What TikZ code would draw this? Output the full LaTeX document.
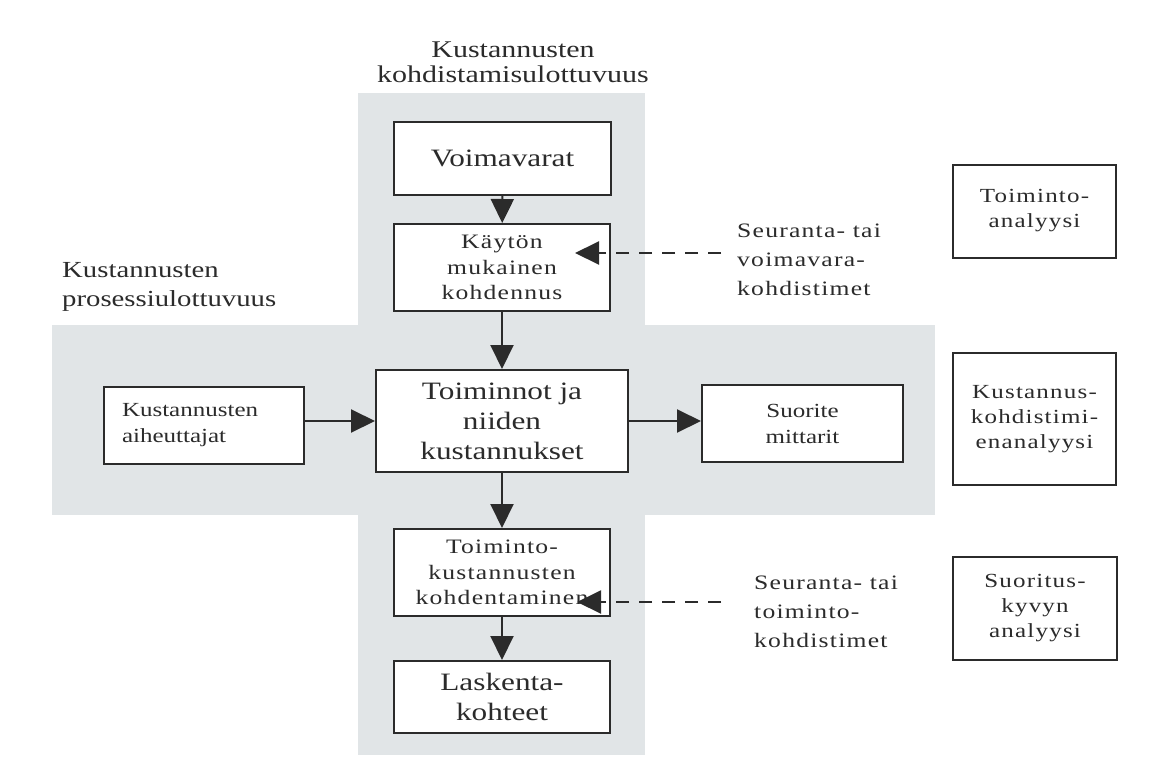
\documentclass[tikz,border=0pt]{standalone}
\usepackage{fontspec}
\setmainfont{Liberation Serif}[FakeStretch=1.25]
\newfontfamily\spaced{Liberation Serif}[FakeStretch=1.25,LetterSpace=6]
\usetikzlibrary{arrows.meta}
\definecolor{band}{HTML}{E1E5E7}
\definecolor{ink}{HTML}{2B2B2B}
\begin{document}
\begin{tikzpicture}[x=1pt,y=-1pt,
  box/.style={draw=ink, line width=2pt, fill=white, align=center, text=ink, inner sep=0pt},
  big/.style={font=\fontsize{25}{30}\selectfont},
  med/.style={font=\spaced\fontsize{20.5}{25.5}\selectfont},
  medb/.style={font=\fontsize{20}{26}\selectfont},
  rbox/.style={font=\spaced\fontsize{20}{25}\selectfont},
  lbl/.style={text=ink, align=left, inner sep=0pt},
  arr/.style={draw=ink, line width=2pt, -{Triangle[length=24pt,width=23pt]}},
  darr/.style={arr, dash pattern=on 13pt off 10pt}]
\useasboundingbox (0,0) rectangle (1170,758);
\fill[white] (0,0) rectangle (1170,758);
% bands
\fill[band] (358,93) rectangle (645,755);
\fill[band] (52,325) rectangle (935,515);
% titles
\node[lbl, align=center, font=\fontsize{24}{25}\selectfont] (title) at (513,62) {Kustannusten\\kohdistamisulottuvuus};
\node[lbl, anchor=west, font=\fontsize{23}{29}\selectfont] (proc) at (62,287) {Kustannusten\\prosessiulottuvuus};
% main column
\node[box, big, minimum width=217, minimum height=73] (voim) at (502.5,158.5) {Voimavarat};
\node[box, med, minimum width=216, minimum height=87] (kayt) at (502,267.5) {Käytön\\mukainen\\kohdennus};
\node[box, big, minimum width=252, minimum height=102] (toim) at (502,421) {Toiminnot ja\\niiden\\kustannukset};
\node[box, medb, align=left, text width=164, inner xsep=18, minimum height=77] (aiheu) at (204,425.5) {Kustannusten\\aiheuttajat};
\node[box, medb, minimum width=201, minimum height=77] (suor) at (802.5,423.5) {Suorite\\mittarit};
\node[box, med, minimum width=216, minimum height=87] (tkoh) at (502,572.5) {Toiminto-\\kustannusten\\kohdentaminen};
\node[box, big, minimum width=216, minimum height=72] (lask) at (502,697) {Laskenta-\\kohteet};
% right column
\node[box, rbox, minimum width=163, minimum height=93] (ta) at (1034.5,211) {Toiminto-\\analyysi};
\node[box, rbox, minimum width=163, minimum height=132] (ka) at (1034.5,419) {Kustannus-\\kohdistimi-\\enanalyysi};
\node[box, rbox, minimum width=164, minimum height=103] (sa) at (1035,608.5) {Suoritus-\\kyvyn\\analyysi};
% driver labels
\node[lbl, anchor=west, font=\spaced\fontsize{20.5}{29}\selectfont] (sv) at (737,260) {Seuranta- tai\\voimavara-\\kohdistimet};
\node[lbl, anchor=west, font=\spaced\fontsize{20.5}{29}\selectfont] (st) at (754,612) {Seuranta- tai\\toiminto-\\kohdistimet};
% connectors
\draw[arr] (voim) -- (kayt);
\draw[arr] (kayt) -- (toim);
\draw[arr] (toim) -- (tkoh);
\draw[arr] (tkoh) -- (lask);
\draw[arr] (aiheu.east |- toim.center) -- (toim.west);
\draw[arr] (toim.east) -- (suor.west |- toim.east);
\coordinate (d1s) at (721,253);
\coordinate (d1e) at (575,253);
\coordinate (d2s) at (721,602);
\coordinate (d2e) at (577,602);
\draw[darr] (d1s) -- (d1e);
\draw[darr] (d2s) -- (d2e);
\end{tikzpicture}
\end{document}
